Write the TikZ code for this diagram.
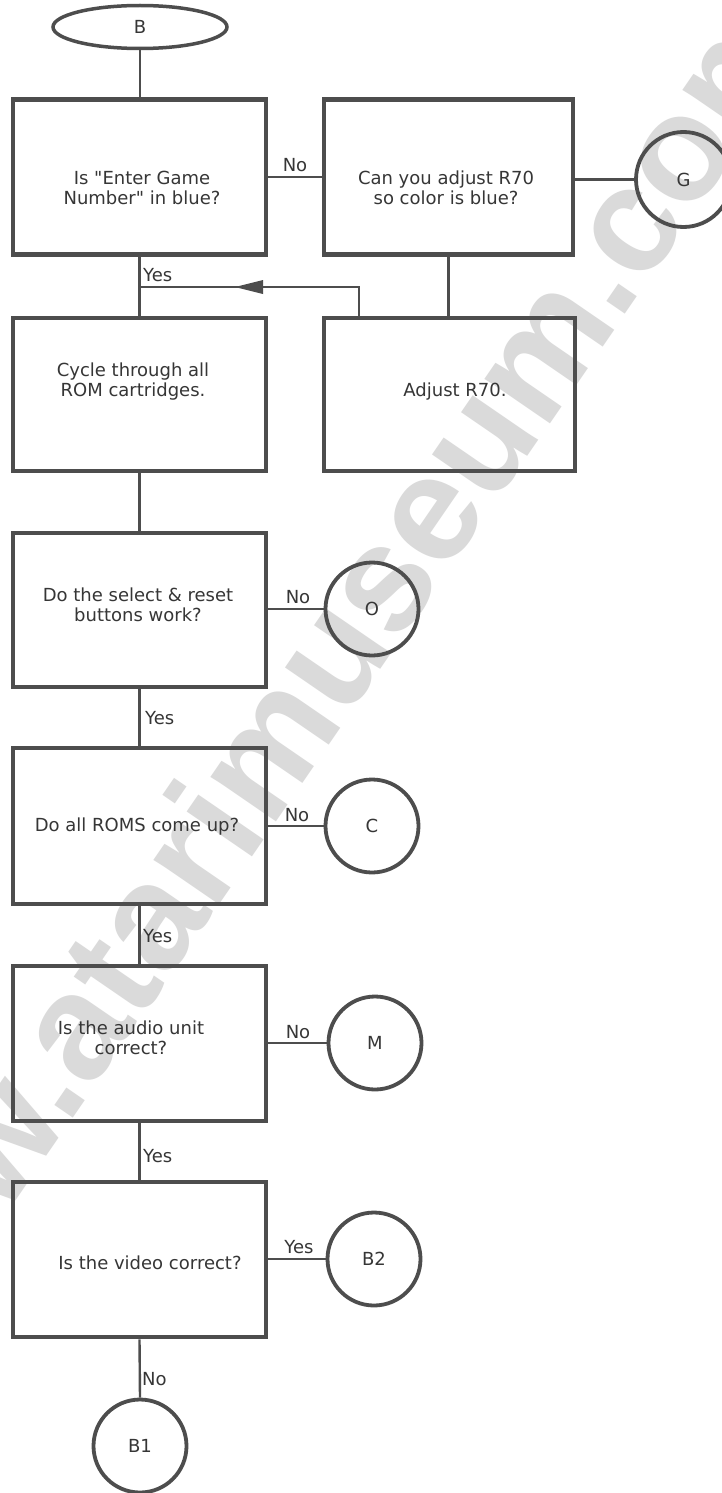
\documentclass[tikz,border=0pt]{standalone}
\usepackage{fontspec}
\setmainfont{DejaVu Sans}
\newfontfamily\wmfont{Liberation Sans}
\usetikzlibrary{shapes.geometric}
\definecolor{ln}{HTML}{4D4D4D}
\definecolor{tx}{HTML}{363636}
\definecolor{wm}{HTML}{DADADA}
\begin{document}
\begin{tikzpicture}[x=1pt,y=-1pt,
  box/.style={draw=ln, line width=4.5pt, minimum width=253pt, minimum height=155pt, inner sep=0pt},
  conn/.style={draw=ln, line width=2.4pt},
  term/.style={draw=ln, line width=3.8pt, circle, minimum size=93pt, inner sep=0pt, font=\fontsize{18}{20}\selectfont, text=tx},
  txt/.style={align=center, font=\fontsize{18}{20}\selectfont, text=tx, inner sep=0pt},
  lbl/.style={font=\fontsize{18}{20}\selectfont, text=tx, inner sep=0pt},
  wmark/.style={font=\wmfont\bfseries\fontsize{150}{150}\selectfont, text=wm, inner sep=0pt, anchor=base, rotate=55.5}
]
\useasboundingbox (0,0) rectangle (722,1493);
\fill[white] (0,0) rectangle (722,1493);
\begin{scope}
\clip (0,0) rectangle (722,1493);
\node[wmark] (wm) at (345,722) {www.atarimuseum.com};

% nodes
\node[ellipse, draw=ln, line width=3.5pt, minimum width=174pt, minimum height=43pt, inner sep=0pt, font=\fontsize{18}{20}\selectfont, text=tx] (B) at (140,27) {B};
\node[box] (b1) at (139.5,177) {};
\node[txt] (t1) at (142,188) {Is \textquotedbl Enter Game\\Number\textquotedbl{} in blue?};
\node[box, minimum width=249pt] (b2) at (448.5,177) {};
\node[txt] (t2) at (446,188) {Can you adjust R70\\so color is blue?};
\node[term, minimum size=95pt] (G) at (683.5,179.5) {G};
\node[box, minimum height=153pt] (b3) at (139.5,394.5) {};
\node[txt] (t3) at (133,382) {Cycle through all\\ROM cartridges.};
\node[box, minimum width=251pt, minimum height=153pt] (b4) at (449.5,394.5) {};
\node[txt] (t4) at (455,392) {Adjust R70.};
\node[box, minimum height=154pt] (b5) at (139.5,610) {};
\node[txt] (t5) at (138,605) {Do the select \& reset\\buttons work?};
\node[term] (O) at (372,609) {O};
\node[box, minimum height=156pt] (b6) at (139.5,826) {};
\node[txt] (t6) at (137,827) {Do all ROMS come up?};
\node[term] (C) at (372,826) {C};
\node[box] (b7) at (139.5,1043.5) {};
\node[txt] (t7) at (131,1038) {Is the audio unit\\correct?};
\node[term] (M) at (375,1043) {M};
\node[box] (b8) at (139.5,1259.5) {};
\node[txt] (t8) at (150,1263) {Is the video correct?};
\node[term] (B2) at (374,1259) {B2};
\node[term] (B1) at (140,1446) {B1};

% connectors
\draw[conn] (B.south) -- (B.south |- b1.north);
\draw[conn] (b1) -- (b2);
\draw[conn] (b2.east |- G) -- (G.west);
\draw[conn] (b2.south) -- (b2.south |- b4.north);
\draw[conn] (b1.south) -- (b3.north);
\coordinate (ax) at (359,287);
\coordinate (jy) at (0,287);
\coordinate (j) at (b1.south |- jy);
\draw[conn] (ax |- b4.north) -- (ax) -- (j);
\fill[ln] (235,287) -- (263,280) -- (263,294) -- cycle;
\draw[conn] (b3.south) -- (b5.north);
\draw[conn] (b5.east |- O) -- (O.west);
\draw[conn] (b5.south) -- (b6.north);
\draw[conn] (b6.east |- C) -- (C.west);
\draw[conn] (b6.south) -- (b7.north);
\draw[conn] (b7.east |- M) -- (M.west);
\draw[conn] (b7.south) -- (b8.north);
\draw[conn] (b8.east |- B2) -- (B2.west);
\draw[conn] (b8.south) -- (B1.north);

% labels
\node[lbl] (l1) at (295,165) {No};
\node[lbl, anchor=west] (l2) at (143,275) {Yes};
\node[lbl] (l3) at (298,597) {No};
\node[lbl, anchor=west] (l4) at (145,718) {Yes};
\node[lbl] (l5) at (297,815) {No};
\node[lbl, anchor=west] (l6) at (143,936) {Yes};
\node[lbl] (l7) at (298,1032) {No};
\node[lbl, anchor=west] (l8) at (143,1156) {Yes};
\node[lbl] (l9) at (299,1247) {Yes};
\node[lbl, anchor=west] (l10) at (142,1379) {No};
\end{scope}
\end{tikzpicture}
\end{document}
